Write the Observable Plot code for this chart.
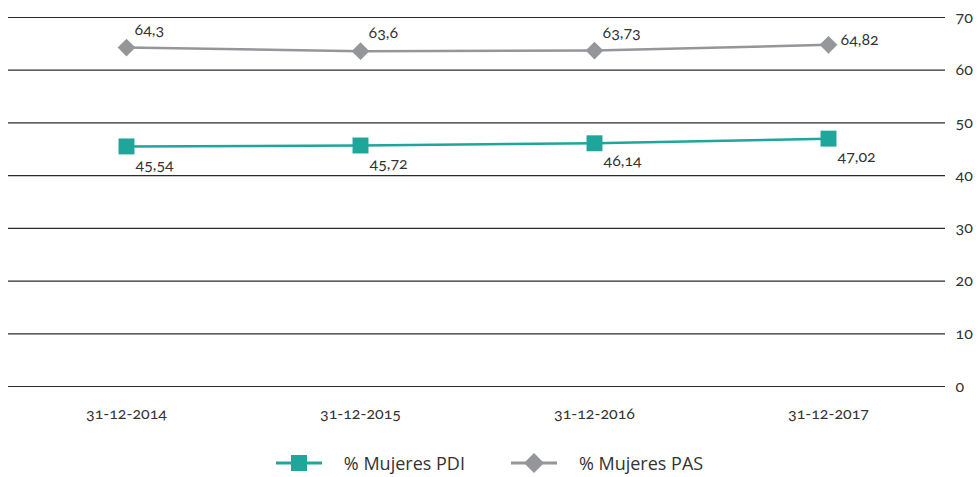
<!DOCTYPE html>
<html>
<head>
<meta charset="utf-8">
<script src="https://cdn.jsdelivr.net/npm/d3@7"></script>
<script src="https://cdn.jsdelivr.net/npm/@observablehq/plot@0.6"></script>
<style>
  html, body { margin: 0; padding: 0; background: #fff; overflow: hidden; }
  #chart { width: 979px; }
  svg text { font-variant-numeric: oldstyle-nums; font-feature-settings: "onum" 1; }
  .legend { display: flex; justify-content: center; align-items: center; height: 24px; padding-top: 15px;
    font-family: "Open Sans", "Noto Sans", sans-serif; font-size: 18px; line-height: 22px; color: #333; }
  .item { display: flex; align-items: center; margin: 0 23px; }
  .item svg { margin-right: 22px; }
</style>
</head>
<body>
<div id="chart"></div>
<script>
const dates = ["31-12-2014", "31-12-2015", "31-12-2016", "31-12-2017"];
const pdi = [45.54, 45.72, 46.14, 47.02];
const pas = [64.3, 63.6, 63.73, 64.82];
const yTicks = [0, 10, 20, 30, 40, 50, 60, 70];
const seriesNames = ["% Mujeres PDI", "% Mujeres PAS"];
const colors = ["#1fa69a", "#95969a"];

const fmt = v => String(v).replace(".", ",");
const pdiData = dates.map((d, i) => ({date: d, value: pdi[i], i}));
const pasData = dates.map((d, i) => ({date: d, value: pas[i], i}));
const last = dates.length - 1;

const plot = Plot.plot({
  width: 979,
  height: 436,
  marginLeft: 8,
  marginRight: 34,
  marginTop: 17,
  marginBottom: 50,
  style: {fontFamily: "Lato, 'Open Sans', sans-serif", fontSize: "16px", color: "#333", background: "#fff"},
  x: {type: "point", domain: dates, padding: 0.5, label: null},
  y: {domain: [0, 70], label: null},
  marks: [
    Plot.ruleY(yTicks, {stroke: "#2b2b2b", strokeWidth: 1.2}),
    Plot.axisX({tickSize: 0, tickPadding: 21, fontSize: 16, fill: "#333", label: null}),
    Plot.axisY({anchor: "right", ticks: yTicks, tickSize: 0, tickPadding: 10, fontSize: 16, fill: "#333", label: null}),
    Plot.line(pdiData, {x: "date", y: "value", stroke: colors[0], strokeWidth: 2.5}),
    Plot.line(pasData, {x: "date", y: "value", stroke: colors[1], strokeWidth: 2.5}),
    Plot.dot(pdiData, {x: "date", y: "value", symbol: "square", r: 9, fill: colors[0], stroke: "none"}),
    Plot.dot(pasData, {x: "date", y: "value", symbol: "diamond2", r: 8, fill: colors[1], stroke: "none"}),
    Plot.text(pdiData, {x: "date", y: "value", text: d => fmt(d.value), textAnchor: "start", dx: 9, dy: 18, fill: "#333", fontSize: 16}),
    Plot.text(pasData.filter(d => d.i !== last), {x: "date", y: "value", text: d => fmt(d.value), textAnchor: "start", dx: 8, dy: -18, fill: "#333", fontSize: 16}),
    Plot.text(pasData.filter(d => d.i === last), {x: "date", y: "value", text: d => fmt(d.value), textAnchor: "start", dx: 12, dy: -5, fill: "#333", fontSize: 16})
  ]
});
document.getElementById("chart").appendChild(plot);

// Legend
const legend = document.createElement("div");
legend.className = "legend";
seriesNames.forEach((name, k) => {
  const item = document.createElement("div");
  item.className = "item";
  const shape = k === 0
    ? `<rect x="15" y="3" width="16" height="16" fill="${colors[k]}"/>`
    : `<path d="M23 1 L33 11 L23 21 L13 11 Z" fill="${colors[k]}"/>`;
  item.innerHTML = `<svg width="46" height="22"><line x1="0" x2="46" y1="11" y2="11" stroke="${colors[k]}" stroke-width="3"/>${shape}</svg><span>${name}</span>`;
  legend.appendChild(item);
});
document.getElementById("chart").appendChild(legend);
</script>
</body>
</html>
